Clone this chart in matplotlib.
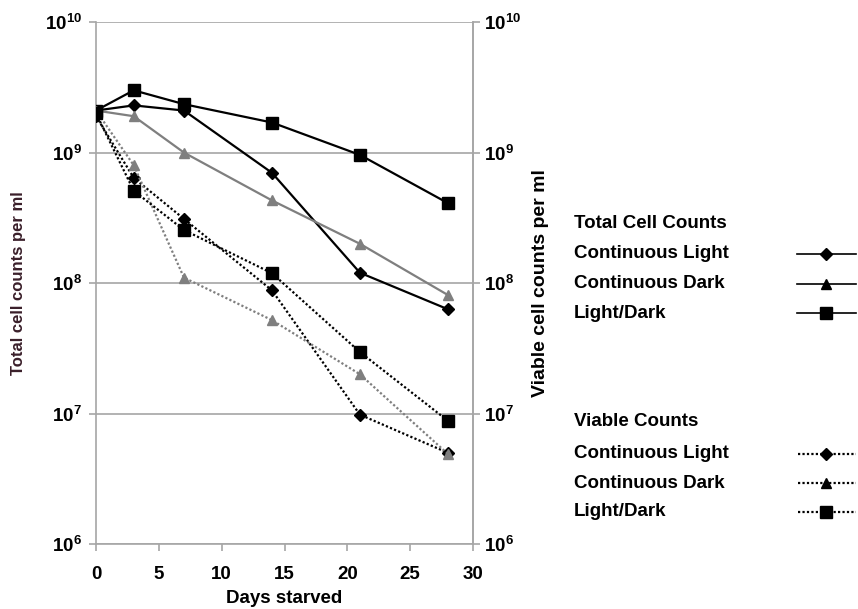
import numpy as np
import matplotlib
matplotlib.use("Agg")
import matplotlib.pyplot as plt
from matplotlib.lines import Line2D
from matplotlib.ticker import FuncFormatter, LogLocator

plt.rcParams['font.family'] = ['Liberation Sans', 'DejaVu Sans']
plt.rcParams['font.weight'] = 'bold'
plt.rcParams['mathtext.fontset'] = 'custom'
plt.rcParams['mathtext.rm'] = 'Liberation Sans:bold'
plt.rcParams['mathtext.bf'] = 'Liberation Sans:bold'
plt.rcParams['mathtext.it'] = 'Liberation Sans:bold'

days = [0, 3, 7, 14, 21, 28]

# total cell counts per ml
total_light = [2.1e9, 2.3e9, 2.1e9, 7.0e8, 1.2e8, 6.3e7]
total_dark = [2.1e9, 1.9e9, 1.0e9, 4.3e8, 2.0e8, 8.1e7]
total_ld = [2.1e9, 3.0e9, 2.35e9, 1.7e9, 9.6e8, 4.1e8]

# viable counts per ml
viable_light = [1.9e9, 6.4e8, 3.1e8, 8.8e7, 9.8e6, 5.0e6]
viable_dark = [2.1e9, 8.0e8, 1.1e8, 5.2e7, 2.0e7, 4.9e6]
viable_ld = [2.0e9, 5.1e8, 2.55e8, 1.19e8, 2.96e7, 8.8e6]

series_names = ["Continuous Light", "Continuous Dark", "Light/Dark"]

GRAY = "#7f7f7f"
AXC = "#a6a6a6"

fig = plt.figure(figsize=(8.58, 6.09), dpi=100)
ax = fig.add_axes([0.1119, 0.1067, 0.4394, 0.857])

styles = [("D", "black", 6), ("^", GRAY, 7), ("s", "black", 8)]

for vals, (m, c, ms) in zip([total_light, total_dark, total_ld], styles):
    ax.plot(days, vals, color=c, marker=m, markersize=ms, linewidth=1.6, zorder=3)
for vals, (m, c, ms) in zip([viable_light, viable_dark, viable_ld], styles):
    ax.plot(days, vals, color=c, marker=m, markersize=ms, linewidth=1.6,
            linestyle=(0, (1, 1)), zorder=3)

ax.set_yscale("log")
ax.set_ylim(1e6, 1e10)
ax.set_xlim(0, 30)
ax.set_xticks([0, 5, 10, 15, 20, 25, 30])
ax.yaxis.set_major_locator(LogLocator(base=10, numticks=10))
ax.yaxis.set_minor_locator(plt.NullLocator())
fmt = FuncFormatter(lambda v, p: r"$10^{%d}$" % round(np.log10(v)))
ax.yaxis.set_major_formatter(fmt)
ax.grid(axis="y", color=AXC, linewidth=1.2)
ax.set_axisbelow(True)

for s in ["left", "bottom", "right"]:
    ax.spines[s].set_color(AXC)
    ax.spines[s].set_linewidth(1.2)
ax.spines["top"].set_visible(False)
ax.tick_params(axis="both", colors=AXC, labelcolor="black", labelsize=13.5,
               length=5, width=1.2, direction="out")
ax.tick_params(axis="x", pad=11)
ax.tick_params(axis="y", pad=5)

ax2 = ax.twinx()
ax2.set_yscale("log")
ax2.set_ylim(1e6, 1e10)
ax2.yaxis.set_major_locator(LogLocator(base=10, numticks=10))
ax2.yaxis.set_minor_locator(plt.NullLocator())
ax2.yaxis.set_major_formatter(fmt)
for s in ["left", "bottom", "top"]:
    ax2.spines[s].set_visible(False)
ax2.spines["right"].set_color(AXC)
ax2.spines["right"].set_linewidth(1.2)
ax2.tick_params(axis="y", colors=AXC, labelcolor="black", labelsize=13.5,
                length=5, width=1.2, pad=3)

ax.set_xlabel("Days starved", fontsize=13.5, fontweight="bold", labelpad=5)
ax.set_ylabel("Total cell counts per ml", fontsize=12, fontweight="bold",
              color="#3a1f2a", labelpad=14)
ax2.set_ylabel("Viable cell counts per ml", fontsize=14, fontweight="bold",
               labelpad=8)

# legend drawn as text rows
W, H = 858.0, 609.0
def fx(px):
    return px / W
def fy(py):
    return 1 - py / H

LFS = 13.5
fig.text(fx(574), fy(223), "Total Cell Counts", fontsize=LFS, fontweight="bold", va="center")
fig.text(fx(574), fy(421), "Viable Counts", fontsize=LFS, fontweight="bold", va="center")
rows_total = [254, 284, 313]
rows_viable = [454, 483, 512]
for name, (m, c, ms), yt, yv in zip(series_names, styles, rows_total, rows_viable):
    fig.text(fx(574), fy(yt), name, fontsize=LFS, fontweight="bold", va="center")
    fig.text(fx(574), fy(yv), name, fontsize=LFS, fontweight="bold", va="center")
    fig.add_artist(Line2D([fx(797), fx(856)], [fy(yt), fy(yt)], color="black",
                          linewidth=1.2))
    fig.add_artist(Line2D([fx(826)], [fy(yt)], color="black", marker=m,
                          markersize=ms, linestyle="none"))
    fig.add_artist(Line2D([fx(798), fx(856)], [fy(yv), fy(yv)], color="black",
                          linewidth=1.6, linestyle=(0, (1, 1))))
    fig.add_artist(Line2D([fx(826)], [fy(yv)], color="black", marker=m,
                          markersize=ms, linestyle="none"))

fig.savefig("out.png", dpi=100)
